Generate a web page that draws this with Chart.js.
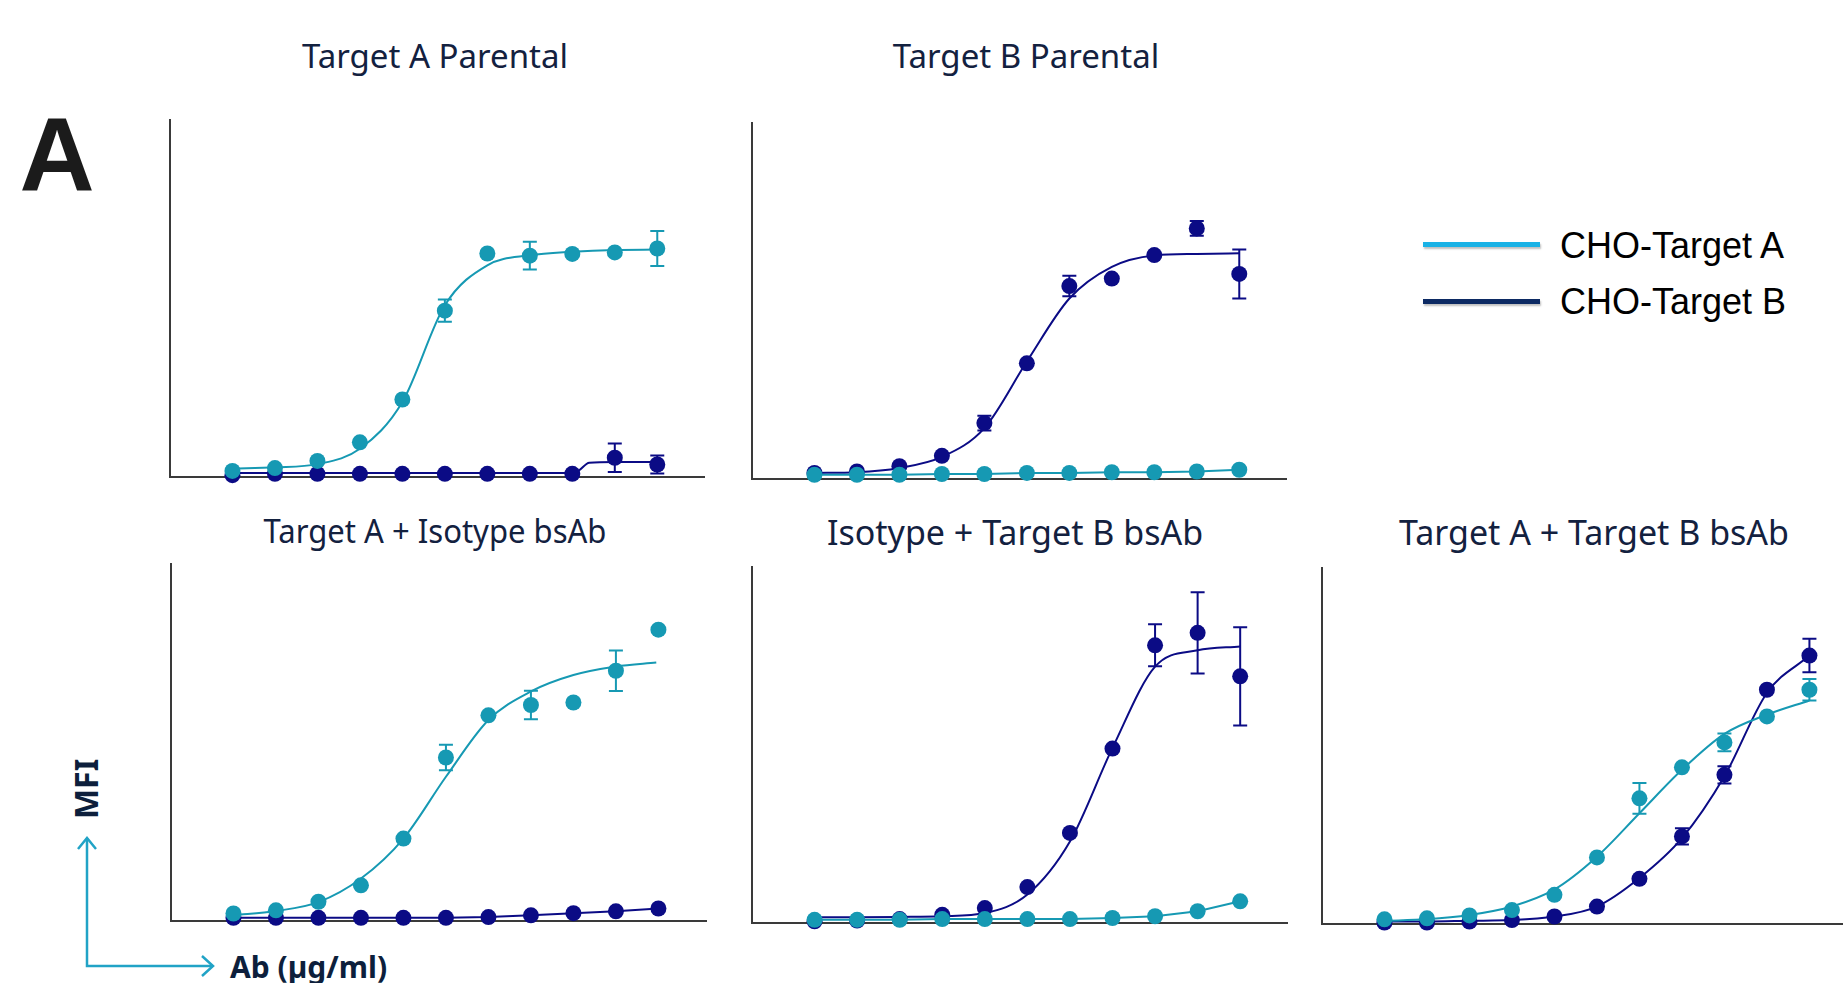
<!DOCTYPE html>
<html>
<head>
<meta charset="utf-8">
<script src="https://cdn.jsdelivr.net/npm/chart.js@4.4.1/dist/chart.umd.min.js"></script>
<style>
  body { margin: 0; background: #fff; width: 1843px; height: 983px; overflow: hidden; position: relative; font-family: "Noto Sans", sans-serif; }
  canvas { position: absolute; }
  .title { position: absolute; transform: translate(-50%, -50%); white-space: nowrap; font-size: 33px; color: #13213f; }
  .big { position: absolute; transform: translate(-50%, -50%); font: bold 104px "Liberation Sans", sans-serif; color: #1b1b1b; }
  .leg-line { position: absolute; left: 1423px; width: 117px; height: 5px; box-shadow: 1px 2px 2px rgba(0,0,0,0.25); }
  .leg-text { position: absolute; left: 1560px; transform: translateY(-50%); font: 36px "Liberation Sans", sans-serif; color: #000; white-space: nowrap; }
  .axis-lbl { position: absolute; font-weight: bold; color: #0d1f3c; white-space: nowrap; }
</style>
</head>
<body>
<div class="big" style="left:57px; top:154px;">A</div>

<div class="title" style="left:435px; top:55px;">Target A Parental</div>
<div class="title" style="left:1026px; top:55px;">Target B Parental</div>
<div class="title" style="left:435px; top:530px; transform: translate(-50%, -50%) scaleX(0.94);">Target A + Isotype bsAb</div>
<div class="title" style="left:1015px; top:532px; font-size:34px;">Isotype + Target B bsAb</div>
<div class="title" style="left:1594px; top:532px; font-size:34px;">Target A + Target B bsAb</div>

<div class="leg-line" style="top:242px; background:#19b2e6;"></div>
<div class="leg-line" style="top:299px; background:#0c2a63;"></div>
<div class="leg-text" style="top:246px;">CHO-Target A</div>
<div class="leg-text" style="top:302px;">CHO-Target B</div>

<svg style="position:absolute; left:0; top:820px;" width="240" height="163">
  <g fill="none" stroke="#21a3c6" stroke-width="2.5">
    <polyline points="87,18 87,146 213,146" />
    <polyline points="78,29 87,18 96,29" />
    <polyline points="202,136 213,146 202,156" />
  </g>
</svg>
<div class="axis-lbl" style="left:85px; top:789px; font-size:32px; transform: translate(-50%, -50%) rotate(-90deg);">MFI</div>
<div class="axis-lbl" style="left:230px; top:966px; font-size:30px; transform: translateY(-50%);">Ab (µg/ml)</div>

<script>
// dilution steps (log-spaced Ab concentrations), MFI as % of axis height
const steps = [1, 2, 3, 4, 5, 6, 7, 8, 9, 10, 11];

// Target A Parental
const p1TealPts = [1.7, 2.5, 4.5, 9.7, 21.7, 46.6, 62.6, 62.0, 62.5, 62.9, 64.0];
const p1TealErr = [0, 0, 0, 0, 0, 3.1, 0, 3.9, 0, 0, 4.9];
const p1TealFit = [2.4, 2.7, 3.6, 7.9, 21.0, 48.1, 59.3, 62.1, 63.1, 63.6, 63.7];
const p1NavyPts = [0.5, 0.9, 0.9, 0.9, 0.9, 0.9, 0.9, 0.9, 0.9, 5.4, 3.5];
const p1NavyErr = [0, 0, 0, 0, 0, 0, 0, 0, 0, 4.0, 2.5];
const p1NavyFitX = [1, 9, 9.15, 9.4, 10, 11];
const p1NavyFitY = [1.1, 1.1, 1.8, 4.0, 4.2, 4.2];

// Target B Parental
const p2NavyPts = [1.7, 2.1, 3.6, 6.5, 15.7, 32.5, 54.2, 56.3, 62.9, 70.4, 57.6];
const p2NavyErr = [0, 0, 0, 0, 2.1, 0, 2.9, 0, 0, 2.1, 6.9];
const p2NavyFit = [1.7, 1.9, 3.1, 6.2, 14.3, 33.0, 50.7, 59.6, 62.8, 63.2, 63.4];
const p2TealPts = [1.2, 1.2, 1.2, 1.4, 1.4, 1.7, 1.7, 1.9, 1.9, 2.1, 2.6];

// Target A + Isotype bsAb
const p3TealPts = [2.1, 3.0, 5.4, 10.0, 23.1, 45.8, 57.6, 60.5, 61.2, 70.1, 81.6];
const p3TealErr = [0, 0, 0, 0, 0, 3.6, 0, 4.0, 0, 5.7, 0];
const p3TealFitX = [1, 2, 3, 4, 5, 6, 7, 8, 9, 10, 10.95];
const p3TealFit = [1.6, 2.8, 5.3, 11.9, 23.1, 40.4, 56.3, 64.3, 68.9, 71.3, 72.4];
const p3NavyPts = [0.9, 0.9, 0.9, 0.9, 0.9, 0.9, 1.1, 1.6, 2.2, 2.7, 3.5];

// Isotype + Target B bsAb
const p4NavyPts = [0.5, 0.7, 1.1, 2.3, 4.2, 10.1, 25.3, 49.0, 78.0, 81.5, 69.3];
const p4NavyErr = [0, 0, 0, 0, 0, 0, 0, 0, 5.9, 11.4, 13.8];
const p4NavyFit = [1.6, 1.6, 1.7, 1.9, 2.8, 8.0, 22.9, 49.2, 72.0, 76.6, 77.7];
const p4TealPts = [0.9, 0.9, 0.9, 1.1, 1.1, 1.1, 1.1, 1.4, 1.9, 3.3, 6.1];

// Target A + Target B bsAb
const p5TealPts = [1.3, 1.6, 2.4, 3.9, 8.2, 18.7, 35.3, 44.0, 51.0, 58.3, 65.8];
const p5TealErr = [0, 0, 0, 0, 0, 0, 4.3, 0, 2.5, 0, 3.0];
const p5TealFit = [0.9, 1.3, 2.5, 4.9, 9.7, 18.9, 31.1, 43.3, 53.4, 58.8, 62.8];
const p5NavyPts = [0.4, 0.4, 0.7, 1.1, 2.1, 4.9, 12.7, 24.6, 41.9, 65.8, 75.4];
const p5NavyErr = [0, 0, 0, 0, 0, 0, 0, 2.3, 2.4, 0, 4.7];
const p5NavyFit = [0.7, 0.7, 0.9, 1.1, 2.1, 4.9, 12.9, 24.1, 41.5, 64.9, 75.4];

const TEAL = '#1699b3';
const NAVY = '#0b0b85';
const AXIS = '#3a3a3a';

const xy = (xs, ys) => xs.map((x, i) => ({ x: x, y: ys[i] }));

// error bars drawn under the points
const errorBars = {
  id: 'errorBars',
  beforeDatasetsDraw(chart) {
    const ctx = chart.ctx;
    const xs = chart.scales.x, ys = chart.scales.y;
    chart.data.datasets.forEach((ds) => {
      if (!ds.errors) return;
      ctx.save();
      ctx.strokeStyle = ds.pointBackgroundColor;
      ctx.lineWidth = 2;
      ds.data.forEach((p, i) => {
        const e = ds.errors[i];
        if (!e) return;
        const x = xs.getPixelForValue(p.x);
        const top = ys.getPixelForValue(p.y + e);
        const bot = ys.getPixelForValue(p.y - e);
        ctx.beginPath();
        ctx.moveTo(x, top); ctx.lineTo(x, bot);
        ctx.moveTo(x - 7, top); ctx.lineTo(x + 7, top);
        ctx.moveTo(x - 7, bot); ctx.lineTo(x + 7, bot);
        ctx.stroke();
      });
      ctx.restore();
    });
  }
};

function fitLine(data, color) {
  return { data: data, borderColor: color, borderWidth: 2, pointRadius: 0,
    cubicInterpolationMode: 'monotone', fill: false, clip: false };
}
function points(data, color, errors, joined) {
  return { data: data, showLine: !!joined, borderColor: color, borderWidth: 2, tension: 0,
    pointRadius: 8, pointBackgroundColor: color, pointBorderWidth: 0,
    errors: errors, fill: false, clip: false };
}

function makePanel(box, xMax, datasets) {
  const pad = { left: 20, top: 20, right: box.right >= 1843 ? 0 : 20, bottom: 20 };
  const c = document.createElement('canvas');
  c.width = box.right - box.left + pad.left + pad.right;
  c.height = box.bottom - box.top + pad.top + pad.bottom;
  c.style.left = (box.left - pad.left) + 'px';
  c.style.top = (box.top - pad.top) + 'px';
  document.body.appendChild(c);
  const axis = (min, max) => ({
    type: 'linear', min: min, max: max,
    grid: { display: false, drawTicks: false },
    ticks: { display: false },
    border: { color: AXIS, width: 2 }
  });
  new Chart(c, {
    type: 'line',
    data: { datasets: datasets },
    options: {
      responsive: false,
      animation: false,
      events: [],
      layout: { padding: pad, autoPadding: false },
      plugins: { legend: { display: false }, tooltip: { enabled: false } },
      scales: { x: axis(-0.47, xMax), y: axis(0, 100) }
    },
    plugins: [errorBars]
  });
}

window.addEventListener('load', () => {
  // teal datasets first so they sit on top
  makePanel({ left: 170, top: 120, right: 704, bottom: 477 }, 12.1, [
    points(xy(steps, p1TealPts), TEAL, p1TealErr),
    fitLine(xy(steps, p1TealFit), TEAL),
    points(xy(steps, p1NavyPts), NAVY, p1NavyErr),
    fitLine(xy(p1NavyFitX, p1NavyFitY), NAVY)
  ]);
  makePanel({ left: 752, top: 123, right: 1286, bottom: 479 }, 12.1, [
    points(xy(steps, p2TealPts), TEAL, null, true),
    points(xy(steps, p2NavyPts), NAVY, p2NavyErr),
    fitLine(xy(steps, p2NavyFit), NAVY)
  ]);
  makePanel({ left: 171, top: 564, right: 706, bottom: 921 }, 12.12, [
    points(xy(steps, p3TealPts), TEAL, p3TealErr),
    fitLine(xy(p3TealFitX, p3TealFit), TEAL),
    points(xy(steps, p3NavyPts), NAVY, null, true)
  ]);
  makePanel({ left: 752, top: 567, right: 1287, bottom: 923 }, 12.1, [
    points(xy(steps, p4TealPts), TEAL, null, true),
    points(xy(steps, p4NavyPts), NAVY, p4NavyErr),
    fitLine(xy(steps, p4NavyFit), NAVY)
  ]);
  makePanel({ left: 1322, top: 568, right: 1843, bottom: 924 }, 11.79, [
    points(xy(steps, p5TealPts), TEAL, p5TealErr),
    fitLine(xy(steps, p5TealFit), TEAL),
    points(xy(steps, p5NavyPts), NAVY, p5NavyErr),
    fitLine(xy(steps, p5NavyFit), NAVY)
  ]);
});
</script>
</body>
</html>
